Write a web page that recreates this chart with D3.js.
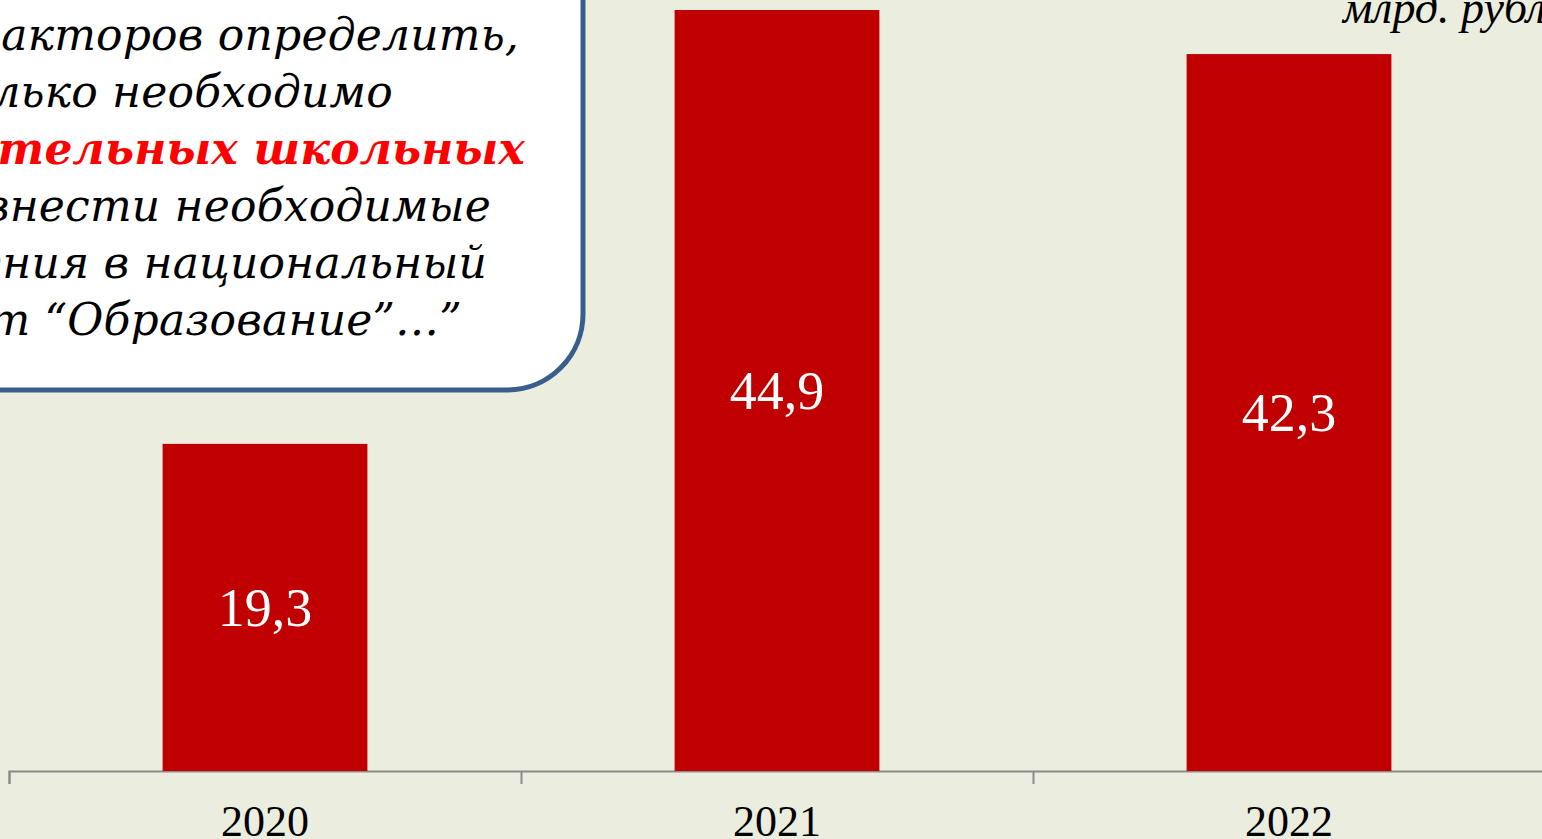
<!DOCTYPE html>
<html>
<head>
<meta charset="UTF-8">
<title></title>
<style>
  body { margin: 0; background: #ebeedf; overflow: hidden; }
  svg { display: block; }
  .year { font-family: "Liberation Serif", serif; font-size: 44px; fill: #000; text-anchor: middle; }
  .val { font-family: "Liberation Serif", serif; font-size: 54px; fill: #fff; text-anchor: middle; }
  .note { font-family: "DejaVu Serif", serif; font-style: italic; font-size: 44px; letter-spacing: 0.2px; fill: #000; text-anchor: end; }
  .unit { font-family: "Liberation Serif", serif; font-style: italic; font-size: 46px; fill: #000; }
</style>
</head>
<body>
<script src="https://cdn.jsdelivr.net/npm/d3@7"></script>
<script>
var width = 1542, height = 839;

// данные
var years = ["2020", "2021", "2022"];
var values = [19.3, 44.9, 42.3];
var unitLabel = "млрд. рублей";
var noteLines = [
  "основе этих факторов определить,",
  "сколько необходимо",
  "дополнительных школьных",
  "и внести необходимые",
  "изменения в национальный",
  "проект “Образование”…”"
];

var svg = d3.select("body").append("svg")
  .attr("width", width)
  .attr("height", height);

var baseY = 771;

var x = d3.scaleBand()
  .domain(years)
  .range([9, 1545])
  .paddingInner(0.6)
  .paddingOuter(0.3);

var y = d3.scaleLinear()
  .domain([0, d3.max(values)])
  .range([baseY, 10]);

// границы категорий для делений оси
var edges = d3.scaleLinear().domain([0, years.length]).range([9, 1545]);

var axis = svg.append("g")
  .attr("transform", "translate(0," + baseY + ")")
  .call(d3.axisBottom(edges).tickValues(d3.range(years.length + 1)).tickFormat("").tickSizeOuter(0).tickSize(13));
axis.selectAll("path, line").attr("stroke", "#8a8a8a").attr("stroke-width", 2);

// столбцы
svg.selectAll(".bar")
  .data(values)
  .enter()
  .append("rect")
  .attr("class", "bar")
  .attr("x", function(d, i) { return x(years[i]); })
  .attr("y", function(d) { return y(d); })
  .attr("width", x.bandwidth())
  .attr("height", function(d) { return baseY - y(d); })
  .attr("fill", "#c00000");

// значения
svg.selectAll(".val")
  .data(values)
  .enter()
  .append("text")
  .attr("class", "val")
  .attr("x", function(d, i) { return x(years[i]) + x.bandwidth() / 2; })
  .attr("y", function(d) { return (y(d) + baseY) / 2; })
  .attr("dy", "0.35em")
  .text(function(d) { return String(d).replace(".", ","); });

// подписи годов
svg.selectAll(".year")
  .data(years)
  .enter()
  .append("text")
  .attr("class", "year")
  .attr("x", function(d) { return x(d) + x.bandwidth() / 2; })
  .attr("y", 836)
  .text(function(d) { return d; });

// единицы
svg.append("text")
  .attr("class", "unit")
  .attr("x", 1343)
  .attr("y", 23)
  .text(unitLabel);

// выноска
svg.append("rect")
  .attr("x", -80)
  .attr("y", -80)
  .attr("width", 663)
  .attr("height", 470)
  .attr("rx", 76)
  .attr("fill", "#fff")
  .attr("stroke", "#3a5e8c")
  .attr("stroke-width", 5);

var lineEnds = [519, 393, 525, 491, 487, 462];
svg.selectAll(".note")
  .data(noteLines)
  .enter()
  .append("text")
  .attr("class", "note")
  .attr("x", function(d, i) { return lineEnds[i]; })
  .attr("y", function(d, i) { return 50 + i * 57; })
  .style("fill", function(d, i) { return i === 2 ? "#ff0000" : null; })
  .style("font-weight", function(d, i) { return i === 2 ? "bold" : null; })
  .text(function(d) { return d; });
</script>
</body>
</html>
